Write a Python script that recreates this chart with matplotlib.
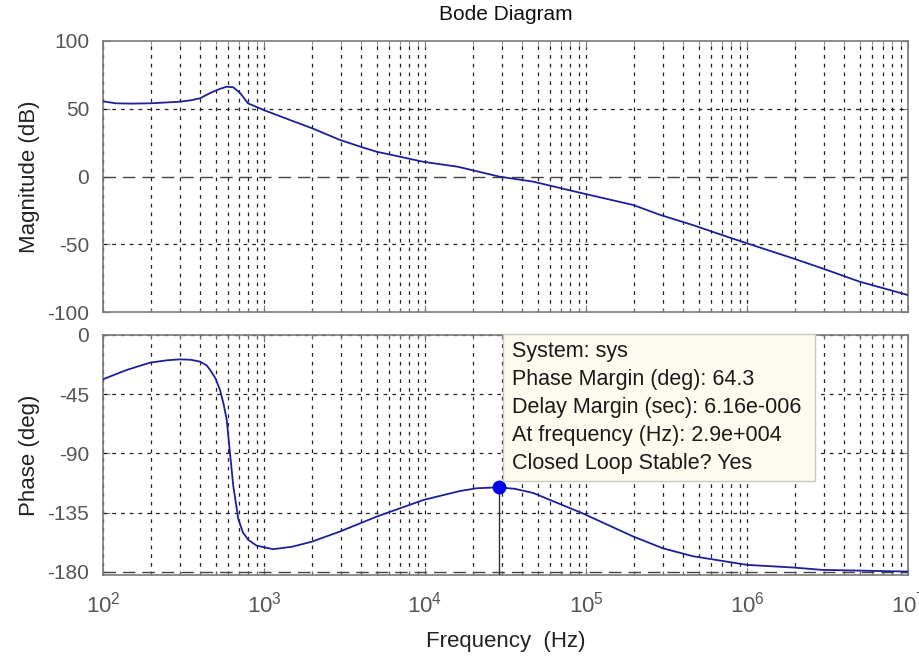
import matplotlib
matplotlib.use("Agg")
import matplotlib.pyplot as plt
from matplotlib.patches import Rectangle

plt.rcParams['font.family'] = ['Liberation Sans', 'DejaVu Sans']
plt.rcParams['mathtext.fontset'] = 'custom'
plt.rcParams['mathtext.rm'] = 'Liberation Sans'
plt.rcParams['axes.unicode_minus'] = False

# magnitude curve (Hz, dB)
mag_freq = [100, 120, 150, 196, 300, 350, 400, 468, 530, 587, 645, 713, 795, 1000,
            1450, 1990, 2960, 3970, 5000, 7000, 9700, 16000, 29000, 47000, 95000,
            196000, 290000, 460000, 750000, 1.0e6, 1.93e6, 2.92e6, 5.0e6, 1.0e7]
mag_db = [55.5, 54.0, 53.8, 54.0, 55.2, 56.2, 57.7, 61.9, 64.6, 66.3, 65.8, 61.4,
          54.0, 49.0, 41.7, 35.6, 27.0, 22.0, 18.3, 14.6, 10.9, 7.2, -0.1, -3.8,
          -12.4, -21.0, -28.4, -35.8, -44.4, -49.3, -60.4, -67.7, -77.6, -87.5]

# phase curve (Hz, deg)
ph_freq = [100, 140, 196, 250, 300, 350, 400, 440, 463, 500, 533, 560, 587, 615,
           645, 693, 740, 800, 900, 1140, 1500, 1980, 2960, 5000, 9770, 16500,
           21000, 28500, 36000, 47000, 95000, 196000, 300000, 460000, 1.0e6,
           1.93e6, 2.92e6, 1.0e7]
ph_deg = [-33.6, -26.6, -21.0, -19.2, -18.5, -18.8, -20.2, -23.0, -26.6, -33.0,
          -41.8, -52.0, -64.5, -89.8, -115.0, -140.0, -150.0, -155.7, -160.0,
          -162.7, -160.8, -157.0, -149.3, -138.0, -125.3, -118.5, -116.4, -115.7,
          -116.8, -120.0, -135.4, -153.0, -162.0, -168.0, -174.6, -176.6, -178.4,
          -179.7]

pm_freq = 2.9e4
pm_phase = -180 + 64.3

tip_lines = ["System: sys",
             "Phase Margin (deg): 64.3",
             "Delay Margin (sec): 6.16e-006",
             "At frequency (Hz): 2.9e+004",
             "Closed Loop Stable? Yes"]

mag_ticks = [-100, -50, 0, 50, 100]
ph_ticks = [-180, -135, -90, -45, 0]

W, H = 920, 657
fig = plt.figure(figsize=(W / 100, H / 100), dpi=100)
fig.patch.set_facecolor('white')

ax1 = fig.add_axes([103 / W, 1 - 312 / H, 805 / W, 271 / H])
ax2 = fig.add_axes([103 / W, 1 - 575 / H, 805 / W, 240 / H])

frame = '#7a7a7a'
tickc = '#555555'
curve = '#1f1f9a'
grid_style = (0, (3, 4))


def style_axes(ax):
    ax.set_xscale('log')
    ax.set_xlim(1e2, 1e7)
    for s in ax.spines.values():
        s.set_color(frame)
        s.set_linewidth(1.2)
    ax.tick_params(which='both', direction='in', colors=frame, labelcolor=tickc,
                   labelsize=15, top=True, right=True)
    ax.tick_params(which='major', length=5)
    ax.tick_params(which='minor', length=3)
    ax.tick_params(axis='y', pad=10)
    ax.xaxis.grid(True, which='both', color='#222222', linestyle=grid_style, linewidth=0.9)


style_axes(ax1)
ax1.plot(mag_freq, mag_db, color=curve, linewidth=1.3, zorder=3)
ax1.set_ylim(-100, 100)
ax1.set_yticks(mag_ticks)
ax1.set_xticklabels([])
for v in [50, -50]:
    ax1.axhline(v, color='#222222', linestyle=grid_style, linewidth=0.9)
ax1.axhline(0, color='#444444', linestyle=(0, (9, 5)), linewidth=1.0)
ax1.set_ylabel("Magnitude (dB)", fontsize=16, color='#222222', labelpad=5)
ax1.set_title("Bode Diagram", fontsize=15, color='#111111', pad=15)

style_axes(ax2)
ax2.plot(ph_freq, ph_deg, color=curve, linewidth=1.3, zorder=3)
ax2.set_ylim(-182.3, 0)
ax2.set_yticks(ph_ticks)
for v in [0, -45, -90, -135]:
    ax2.axhline(v, color='#222222', linestyle=grid_style, linewidth=0.9)
ax2.axhline(-180, color='#444444', linestyle=(0, (9, 5)), linewidth=1.0)
ax2.vlines(pm_freq, -182.3, pm_phase, color='#333333', linewidth=1.0, zorder=4)
ax2.plot([pm_freq], [pm_phase], 'o', color='#0000ee', markersize=9, zorder=5)
ax2.set_ylabel("Phase (deg)", fontsize=16, color='#222222', labelpad=5)
ax2.set_xlabel("Frequency  (Hz)", fontsize=16, color='#222222', labelpad=10)
ax2.tick_params(axis='x', pad=12, labelsize=16)

# data tip box
box = Rectangle((503 / W, 1 - 481 / H), 312 / W, 147 / H, transform=fig.transFigure,
                facecolor='#fdfbee', edgecolor='#c8c8c0', linewidth=1.0, zorder=10)
fig.patches.append(box)
for i, line in enumerate(tip_lines):
    fig.text(512 / W, 1 - (352 + 27.8 * i) / H, line, fontsize=15.5, color='#1a1a1a',
             va='center', ha='left', zorder=11)

fig.savefig("out.png", dpi=100)
